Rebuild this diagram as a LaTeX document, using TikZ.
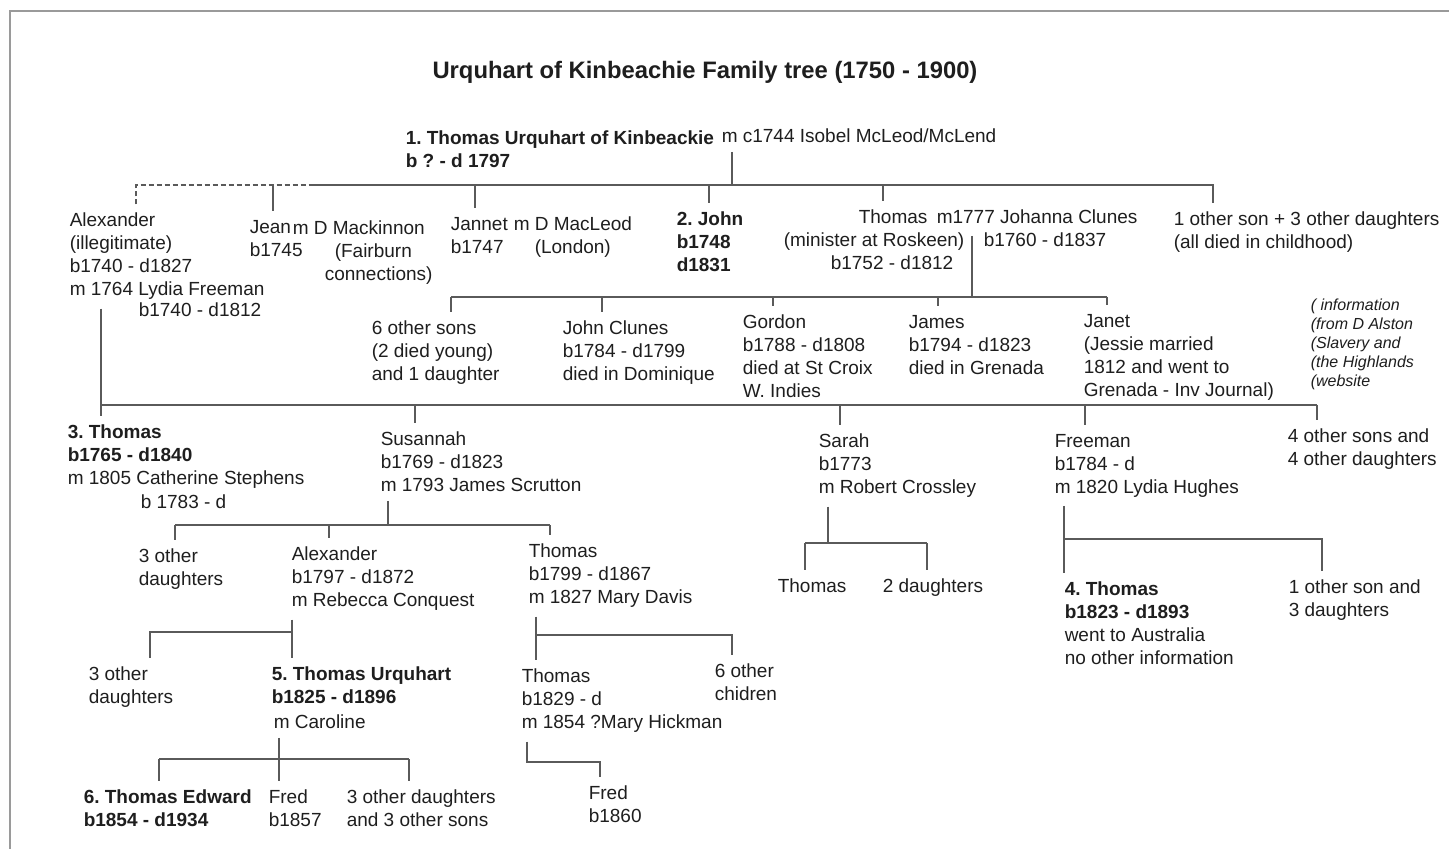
\documentclass[tikz,border=0pt]{standalone}
\usepackage{fontspec}
\setmainfont{Liberation Sans}
\usetikzlibrary{positioning}
\definecolor{inkgray}{HTML}{1E1E1E}
\definecolor{linegray}{HTML}{5A5A5A}
\definecolor{framegray}{HTML}{9A9A9A}
\frenchspacing

\begin{document}
\begin{tikzpicture}[x=0.5pt,y=-0.5pt,line width=0.75pt]
  % nodes are placed at the baseline of their first line
  \tikzstyle{person}=[anchor=north west,yshift=10.8pt,align=left,inner xsep=0pt,inner ysep=4pt,
    text=inkgray,font=\fontsize{9.5}{11.5}\selectfont]
  \tikzstyle{heir}=[person,font=\fontsize{9.5}{11.5}\selectfont\bfseries]
  \tikzstyle{note}=[anchor=north west,yshift=9.8pt,align=left,inner xsep=0pt,inner ysep=4pt,
    text=inkgray,font=\fontsize{8}{9.5}\selectfont\itshape]
  \tikzstyle{branch}=[draw=linegray]

  \useasboundingbox (0,0) rectangle (1449,849);
  \draw[framegray,line width=1pt] (1449,11) -| (10,849);

  \node[anchor=base,text=inkgray,font=\fontsize{11.9}{14}\selectfont\bfseries] (title) at (705,79)
    {Urquhart of Kinbeachie Family tree (1750 - 1900)};

  \node[heir] (root) at (405,144) {1. Thomas Urquhart of Kinbeackie\\b ? - d 1797};
  \node[person] (isobel) at (721,142) {m c1744 Isobel McLeod/McLend};

  \node[person] (alex) at (69,226) {Alexander\\(illegitimate)\\b1740 - d1827\\m 1764 Lydia Freeman};
  \node[person] (lydia) at (138,316) {b1740 - d1812};
  \node[person] (jean) at (249,233) {Jean\\b1745};
  \node[person] (mackinnon) at (292,234) {m D Mackinnon\\\hspace*{21pt}(Fairburn\\\hspace*{16pt}connections)};
  \node[person] (jannet) at (450,230) {Jannet\\b1747};
  \node[person] (macleod) at (513,230) {m D MacLeod\\\hspace*{10.5pt}(London)};
  \node[heir] (john) at (676,225) {2. John\\b1748\\d1831};
  \node[person] (minister) at (783,223) {\hspace*{37.5pt}Thomas\\(minister at Roskeen)\\\hspace*{23.5pt}b1752 - d1812};
  \node[person] (johanna) at (936,223) {m1777 Johanna Clunes\\\hspace*{23.5pt}b1760 - d1837};
  \node[person] (others1) at (1173,225) {1 other son + 3 other daughters\\(all died in childhood)};

  \node[person] (sixsons) at (371,334) {6 other sons\\(2 died young)\\and 1 daughter};
  \node[person] (johnc) at (562,334) {John Clunes\\b1784 - d1799\\died in Dominique};
  \node[person] (gordon) at (742,328) {Gordon\\b1788 - d1808\\died at St Croix\\W. Indies};
  \node[person] (james) at (908,328) {James\\b1794 - d1823\\died in Grenada};
  \node[person] (janet) at (1083,327) {Janet\\(Jessie married\\1812 and went to\\Grenada - Inv Journal)};
  \node[note] (source) at (1310,310) {( information\\(from D Alston\\(Slavery and\\(the Highlands\\(website};

  \node[person] (thomasiii) at (67,438) {\textbf{3. Thomas}\\\textbf{b1765 - d1840}\\m 1805 Catherine Stephens};
  \node[person] (catherine) at (140,508) {b 1783 - d};
  \node[person] (susannah) at (380,445) {Susannah\\b1769 - d1823\\m 1793 James Scrutton};
  \node[person] (sarah) at (818,447) {Sarah\\b1773\\m Robert Crossley};
  \node[person] (freeman) at (1054,447) {Freeman\\b1784 - d\\m 1820 Lydia Hughes};
  \node[person] (others4) at (1287,442) {4 other sons and\\4 other daughters};

  \node[person] (daughtsc) at (138,562) {3 other\\daughters};
  \node[person] (alexsc) at (291,560) {Alexander\\b1797 - d1872\\m Rebecca Conquest};
  \node[person] (thomassc) at (528,557) {Thomas\\b1799 - d1867\\m 1827 Mary Davis};
  \node[person] (thomascr) at (777,592) {Thomas};
  \node[person] (daughtscr) at (882,592) {2 daughters};
  \node[person] (thomasiv) at (1064,595) {\textbf{4. Thomas}\\\textbf{b1823 - d1893}\\went to Australia\\no other information};
  \node[person] (sonfr) at (1288,593) {1 other son and\\3 daughters};

  \node[person] (daughtsal) at (88,680) {3 other\\daughters};
  \node[heir] (thomasv) at (271,680) {5. Thomas Urquhart\\b1825 - d1896};
  \node[person] (caroline) at (273,728) {m Caroline};
  \node[person] (thomashk) at (521,682) {Thomas\\b1829 - d\\m 1854 ?Mary Hickman};
  \node[person] (sixchild) at (714,677) {6 other\\chidren};

  \node[heir] (edward) at (83,803) {6. Thomas Edward\\b1854 - d1934};
  \node[person] (fredu) at (268,803) {Fred\\b1857};
  \node[person] (othersu) at (346,803) {3 other daughters\\and 3 other sons};
  \node[person] (fredhk) at (588,799) {Fred\\b1860};

  \coordinate (r1) at (732,185);
  \coordinate (bar1w) at (136,185);
  \coordinate (bar1m) at (310,185);
  \coordinate (bar1e) at (1213,185);
  \draw[branch] (r1 |- isobel.south) -- (r1);
  \draw[branch,dash pattern=on 2.5pt off 1.5pt] (bar1w |- alex.north) -- (bar1w) -- (bar1m);
  \draw[branch] (bar1m) -- (bar1e) -- (bar1e |- others1.north);
  \foreach \n/\x in {jean/273,jannet/475,john/709,minister/883}
    \draw[branch] (\x,185) -- (\x,185 |- \n.north);

  \coordinate (m2) at (972,297);
  \draw[branch] (m2 |- johanna.base) ++(0,-11) -- (m2);
  \draw[branch] (451,297) -- (1107,297);
  \foreach \n/\x in {sixsons/451,johnc/602,gordon/773,james/938,janet/1107}
    \draw[branch] (\x,297) -- (\x,297 |- \n.north);

  \coordinate (bar3w) at (101,405);
  \coordinate (bar3e) at (1317,405);
  \draw[branch] (bar3w |- alex.south) -- (bar3w |- thomasiii.north);
  \draw[branch] (bar3w) -- (bar3e);
  \foreach \n/\x in {susannah/415,sarah/840,freeman/1085,others4/1317}
    \draw[branch] (\x,405) -- (\x,405 |- \n.north);

  \coordinate (s4) at (388,525);
  \draw[branch] (s4 |- susannah.south) -- (s4);
  \draw[branch] (175,525) -- (550,525);
  \foreach \n/\x in {daughtsc/175,alexsc/329,thomassc/550}
    \draw[branch] (\x,525) -- (\x,525 |- \n.north);

  \coordinate (s5) at (828,543);
  \draw[branch] (s5 |- sarah.south) -- (s5);
  \draw[branch] (805,543) -- (927,543);
  \foreach \n/\x in {thomascr/805,daughtscr/927}
    \draw[branch] (\x,543) -- (\x,543 |- \n.north);

  \coordinate (f5) at (1064,539);
  \draw[branch] (f5 |- freeman.south) -- (f5 |- thomasiv.north);
  \draw[branch] (f5) -- (1322,539) -- (1322,539 |- sonfr.north);

  \coordinate (a5) at (292,632);
  \draw[branch] (a5 |- alexsc.south) -- (a5 |- thomasv.north);
  \draw[branch] (a5) -- (150,632) -- (150,632 |- daughtsal.north);

  \coordinate (t5) at (536,635);
  \draw[branch] (t5 |- thomassc.south) -- (t5 |- thomashk.north);
  \draw[branch] (t5) -- (732,635) -- (732,635 |- sixchild.north);

  \coordinate (t6) at (279,759);
  \draw[branch] (t6 |- caroline.south) -- (t6 |- fredu.north);
  \draw[branch] (159,759) -- (409,759);
  \foreach \n/\x in {edward/159,othersu/409}
    \draw[branch] (\x,759) -- (\x,759 |- \n.north);

  \coordinate (h6) at (527,762);
  \draw[branch] (h6 |- thomashk.south) -- (h6) -- (600,762) -- (600,762 |- fredhk.north);
\end{tikzpicture}
\end{document}
